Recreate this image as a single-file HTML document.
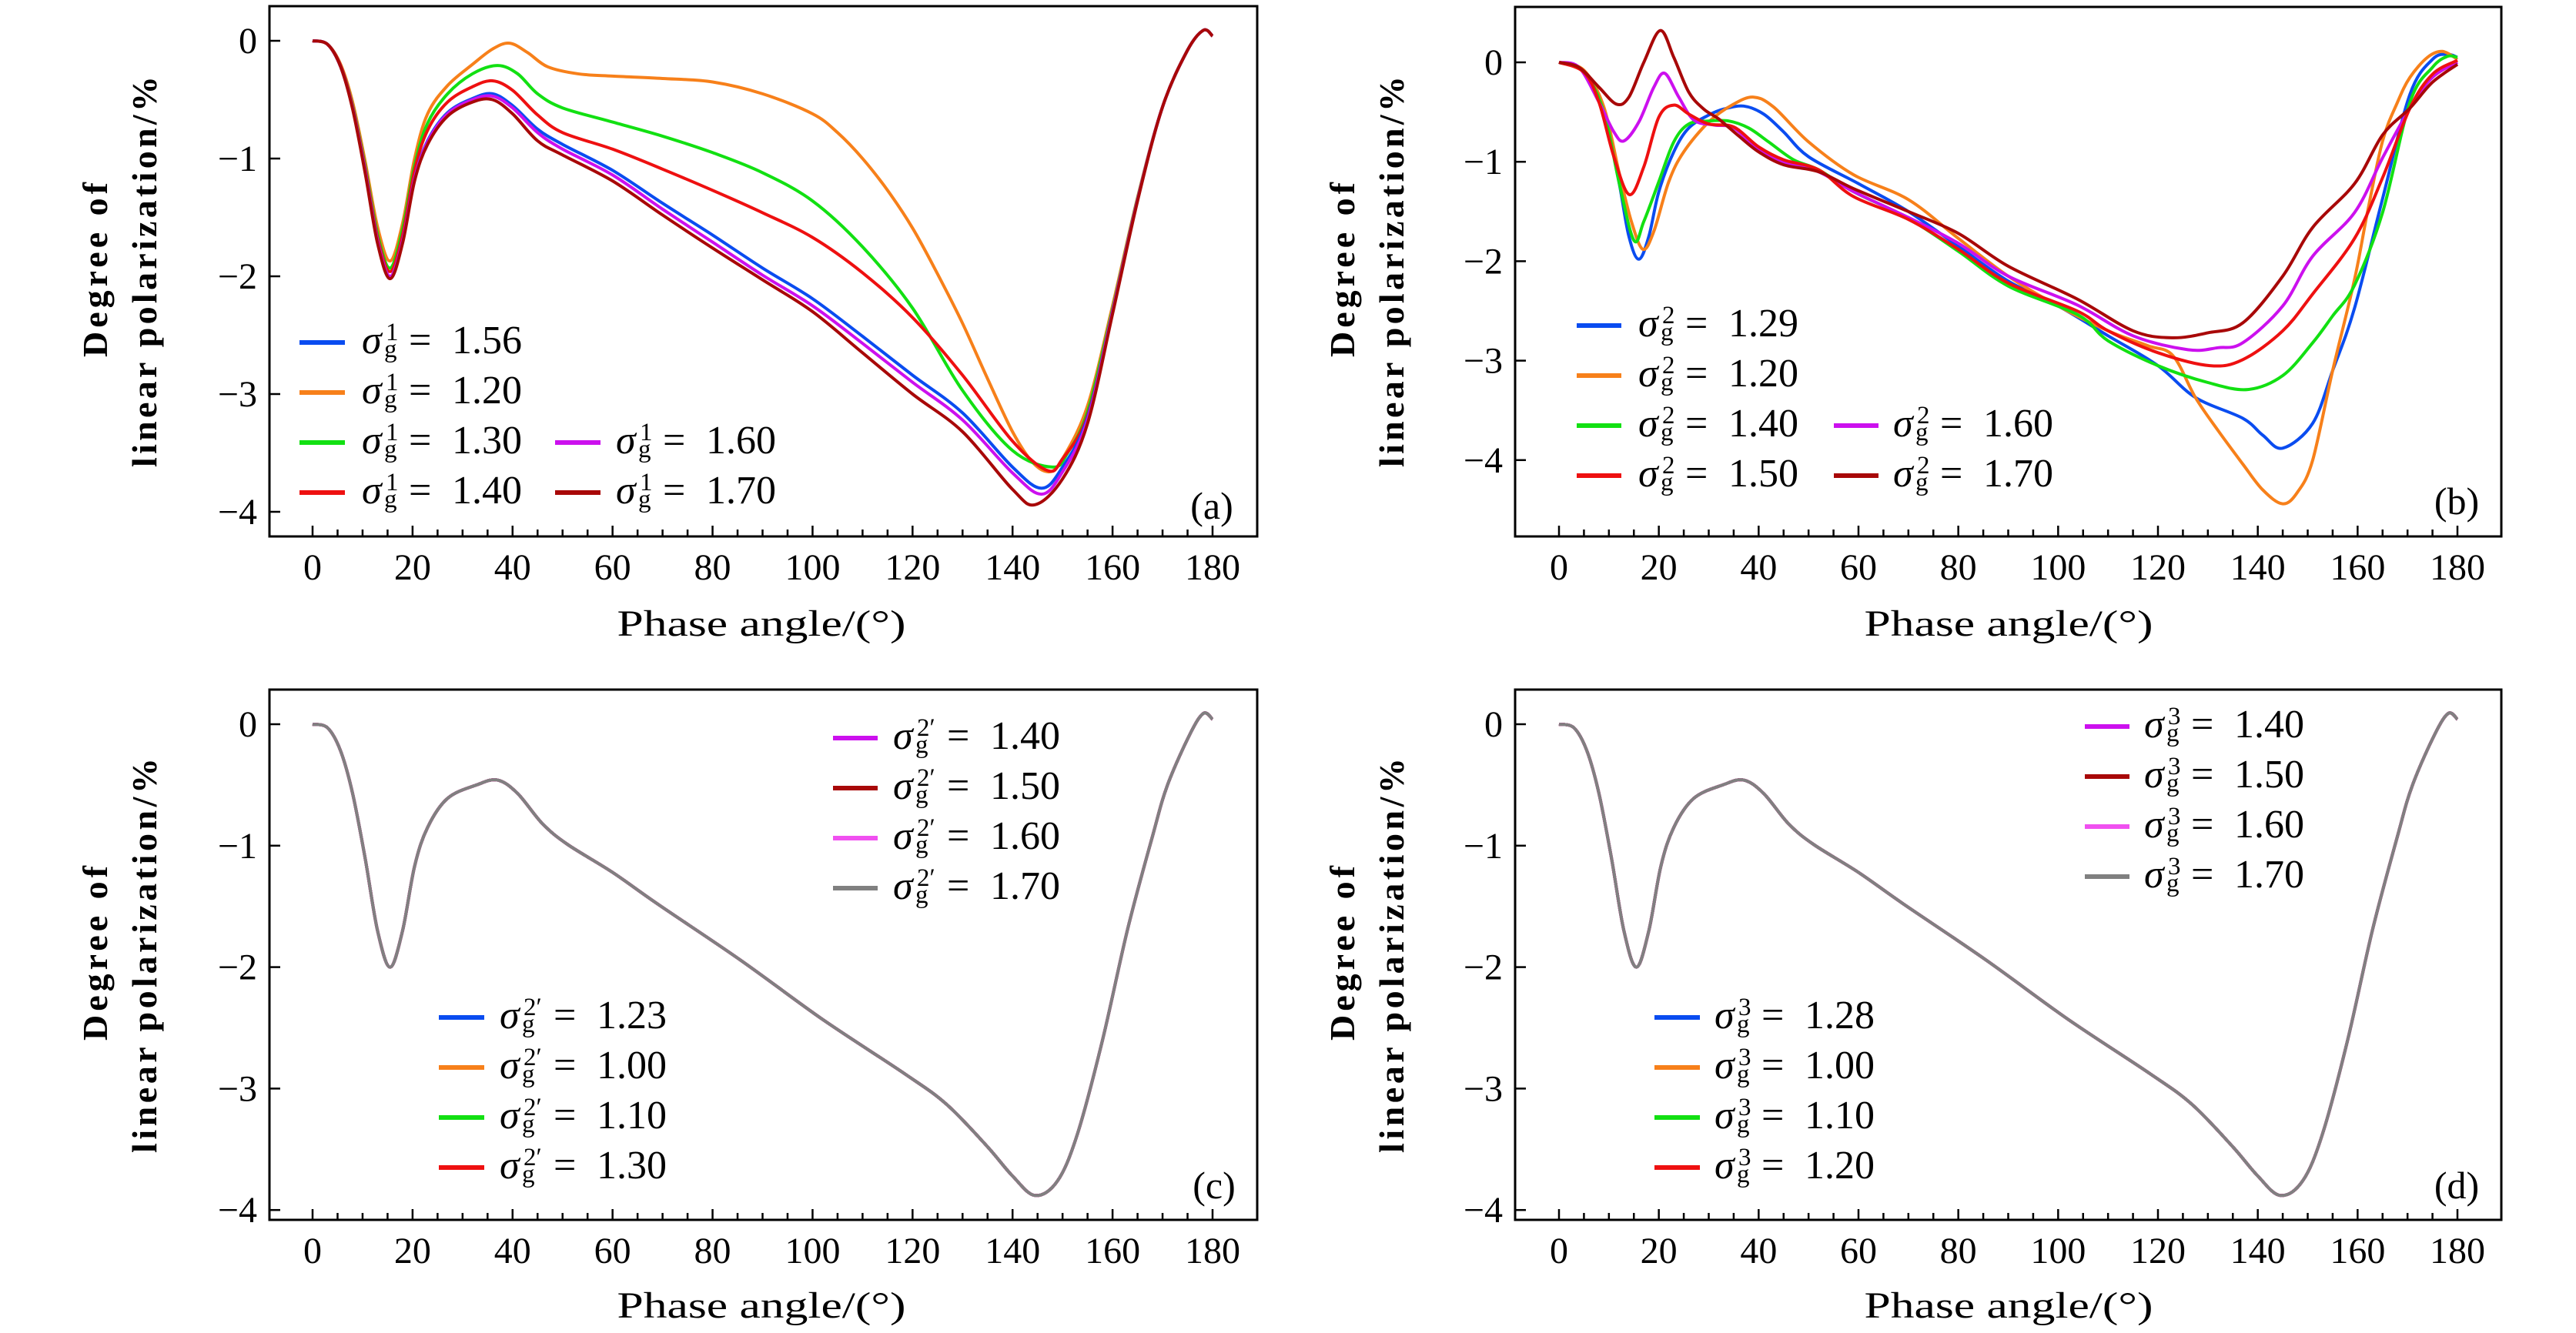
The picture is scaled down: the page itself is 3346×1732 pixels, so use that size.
<!DOCTYPE html>
<html><head><meta charset="utf-8">
<style>
html,body{margin:0;padding:0;background:#fff;}
svg{display:block;}
svg text{font-family:"Liberation Serif","DejaVu Serif",serif;fill:#000;}
</style></head>
<body>
<svg id="fig" width="3346" height="1732" viewBox="0 0 3346 1732" font-family="'Liberation Serif', 'DejaVu Serif', serif" xmlns="http://www.w3.org/2000/svg"></svg>
<script>
// ---------- data ----------
const xTickLabels = [0,20,40,60,80,100,120,140,160,180];
const yTickValues = [0,-1,-2,-3,-4];

// Panel (a)
const aLabels = ["1.56","1.20","1.30","1.40","1.60","1.70"];
const a156 = [[0,0],[3,-0.03],[5.6,-0.22],[8,-0.57],[10.5,-1.1],[13,-1.7],[15.5,-2.0],[18,-1.7],[20.4,-1.17],[23,-0.85],[27,-0.61],[32,-0.49],[36,-0.45],[40,-0.55],[45,-0.75],[50,-0.88],[60,-1.1],[70,-1.38],[80,-1.65],[90,-1.93],[100,-2.19],[110,-2.51],[120,-2.84],[130,-3.16],[140,-3.62],[145.8,-3.8],[150,-3.62],[155,-3.2],[160,-2.3],[165,-1.35],[170,-0.56],[175,-0.08],[178.2,0.09],[180,0.04]];
const a120 = [[0,0],[3,-0.03],[5.6,-0.2],[8,-0.52],[10.5,-1.02],[13,-1.58],[15.5,-1.87],[18,-1.55],[20.4,-1.0],[23,-0.62],[27,-0.38],[32,-0.2],[36,-0.07],[39.4,-0.02],[43,-0.1],[47,-0.22],[53,-0.28],[60,-0.3],[70,-0.32],[80,-0.35],[90,-0.45],[100,-0.62],[105,-0.78],[110,-1.0],[115,-1.27],[120,-1.59],[125,-1.98],[130,-2.4],[135,-2.87],[140,-3.32],[144,-3.58],[147.4,-3.66],[150,-3.55],[155,-3.1],[160,-2.25],[165,-1.33],[170,-0.56],[175,-0.08],[178.2,0.09],[180,0.04]];
const a130 = [[0,0],[3,-0.03],[5.6,-0.21],[8,-0.55],[10.5,-1.06],[13,-1.64],[15.5,-1.93],[18,-1.6],[20.4,-1.06],[23,-0.7],[27,-0.45],[32,-0.28],[37,-0.21],[41,-0.28],[45,-0.45],[50,-0.57],[60,-0.69],[70,-0.81],[80,-0.95],[90,-1.12],[100,-1.36],[110,-1.75],[120,-2.27],[130,-2.97],[140,-3.48],[148,-3.62],[151,-3.5],[155,-3.15],[160,-2.28],[165,-1.34],[170,-0.56],[175,-0.08],[178.2,0.09],[180,0.04]];
const a140 = [[0,0],[3,-0.03],[5.6,-0.21],[8,-0.56],[10.5,-1.08],[13,-1.67],[15.5,-1.96],[18,-1.65],[20.4,-1.1],[23,-0.76],[27,-0.52],[32,-0.39],[36,-0.34],[40,-0.42],[45,-0.63],[50,-0.78],[60,-0.92],[70,-1.09],[80,-1.27],[90,-1.46],[100,-1.67],[110,-1.97],[120,-2.35],[130,-2.84],[140,-3.4],[147,-3.65],[150,-3.55],[155,-3.18],[160,-2.3],[165,-1.35],[170,-0.56],[175,-0.08],[178.2,0.09],[180,0.04]];
const a160 = [[0,0],[3,-0.03],[5.6,-0.22],[8,-0.57],[10.5,-1.1],[13,-1.7],[15.5,-2.0],[18,-1.7],[20.4,-1.17],[23,-0.86],[27,-0.62],[32,-0.5],[36,-0.47],[40,-0.57],[45,-0.78],[50,-0.92],[60,-1.14],[70,-1.43],[80,-1.71],[90,-1.99],[100,-2.25],[110,-2.57],[120,-2.9],[130,-3.22],[140,-3.67],[145.8,-3.85],[150,-3.66],[155,-3.22],[160,-2.3],[165,-1.35],[170,-0.56],[175,-0.08],[178.2,0.09],[180,0.04]];
const a170 = [[0,0],[3,-0.03],[5.6,-0.22],[8,-0.58],[10.5,-1.12],[13,-1.72],[15.5,-2.02],[18,-1.72],[20.4,-1.19],[23,-0.88],[27,-0.64],[32,-0.52],[36,-0.5],[40,-0.62],[45,-0.85],[50,-0.97],[60,-1.19],[70,-1.48],[80,-1.76],[90,-2.03],[100,-2.3],[110,-2.65],[120,-3.0],[130,-3.32],[140,-3.81],[144.5,-3.94],[150,-3.72],[155,-3.25],[160,-2.32],[165,-1.36],[170,-0.56],[175,-0.08],[178.2,0.09],[180,0.04]];

// Panel (b)
const bLabels = ["1.29","1.20","1.40","1.60","1.50","1.70"];
const b129 = [[0,0],[5,-0.1],[9,-0.5],[12,-1.2],[14,-1.75],[16,-1.98],[18,-1.75],[20,-1.3],[23,-0.9],[26,-0.66],[30,-0.53],[33,-0.47],[37,-0.44],[41,-0.52],[45,-0.7],[50,-0.95],[60,-1.22],[70,-1.5],[80,-1.85],[90,-2.2],[100,-2.45],[110,-2.75],[120,-3.05],[127.5,-3.37],[137,-3.58],[141,-3.75],[145,-3.88],[151,-3.63],[155,-3.1],[159.4,-2.47],[165,-1.37],[170.5,-0.32],[175,0.03],[178,0.08],[180,0.05]];
const b120 = [[0,0],[5,-0.08],[9,-0.45],[12,-1.1],[14.5,-1.6],[16.8,-1.88],[19,-1.7],[22,-1.2],[25,-0.9],[30,-0.6],[35,-0.42],[39,-0.35],[43,-0.45],[50,-0.8],[59,-1.13],[70,-1.38],[80,-1.77],[90,-2.15],[100,-2.45],[110,-2.7],[118,-2.85],[123,-2.95],[127.5,-3.37],[132,-3.7],[137,-4.04],[141,-4.3],[145,-4.44],[148,-4.32],[151,-4.0],[155,-3.1],[159.4,-2.18],[162,-1.5],[165,-0.79],[168,-0.4],[170.5,-0.15],[174,0.05],[177,0.11],[180,0.03]];
const b140 = [[0,0],[5,-0.1],[9,-0.5],[12,-1.2],[15,-1.79],[17,-1.6],[20,-1.2],[23,-0.8],[26,-0.62],[30,-0.59],[34,-0.59],[38,-0.66],[42,-0.8],[47,-0.98],[52,-1.08],[59,-1.3],[70,-1.57],[80,-1.9],[90,-2.25],[104,-2.54],[110,-2.8],[120,-3.05],[130,-3.22],[138,-3.29],[145,-3.15],[151,-2.82],[155,-2.55],[159.4,-2.24],[165,-1.51],[170.5,-0.4],[175,-0.05],[178,0.06],[180,0.05]];
const b160 = [[0,0],[4,-0.05],[8,-0.4],[11,-0.7],[13,-0.79],[16,-0.6],[19,-0.25],[21.2,-0.11],[24,-0.35],[27,-0.58],[31,-0.63],[35,-0.66],[40,-0.88],[45,-1.0],[52,-1.1],[59,-1.3],[70,-1.56],[80,-1.82],[90,-2.15],[103.8,-2.44],[115,-2.75],[126,-2.89],[132,-2.87],[137,-2.82],[145,-2.45],[151,-1.95],[159.4,-1.51],[165,-0.96],[170.5,-0.46],[175,-0.15],[180,0]];
const b150 = [[0,0],[5,-0.1],[8,-0.4],[11,-0.95],[14.1,-1.33],[17,-1.05],[20,-0.55],[23,-0.43],[26,-0.52],[30,-0.62],[35,-0.65],[40,-0.85],[45,-0.98],[52,-1.08],[59,-1.35],[70,-1.58],[80,-1.88],[90,-2.22],[103.8,-2.5],[110,-2.7],[120,-2.92],[130.4,-3.05],[137,-2.99],[145,-2.7],[151,-2.33],[159.4,-1.77],[165,-1.16],[170.5,-0.46],[175,-0.12],[180,0.02]];
const b170 = [[0,0],[4,-0.05],[8,-0.25],[11.5,-0.42],[14,-0.35],[17,0.0],[20.3,0.32],[23,0.05],[26,-0.3],[29,-0.47],[32,-0.57],[36,-0.74],[40,-0.9],[45,-1.03],[52,-1.1],[59,-1.27],[70,-1.5],[80,-1.72],[90,-2.05],[103.8,-2.38],[115,-2.7],[122.8,-2.77],[130,-2.72],[137,-2.62],[145,-2.15],[151,-1.66],[159.4,-1.22],[165,-0.73],[170.5,-0.46],[175,-0.2],[180,-0.02]];

// Panels (c) and (d): all series coincide
const cLabelsLow = ["1.23","1.00","1.10","1.30"];
const cLabelsHigh = ["1.40","1.50","1.60","1.70"];
const dLabelsLow = ["1.28","1.00","1.10","1.20"];
const dLabelsHigh = ["1.40","1.50","1.60","1.70"];
const cCurve = [[0,0],[3,-0.03],[5.6,-0.22],[8,-0.57],[10.5,-1.1],[13,-1.7],[15.5,-2.0],[18,-1.7],[20.4,-1.17],[23,-0.85],[27,-0.61],[32.8,-0.5],[37,-0.46],[41,-0.57],[46,-0.82],[51,-0.99],[60,-1.22],[69,-1.48],[85.5,-1.94],[102,-2.43],[118.5,-2.88],[126.8,-3.13],[135,-3.48],[140,-3.72],[144.5,-3.88],[149,-3.76],[153,-3.37],[158,-2.6],[163,-1.69],[168,-0.92],[171,-0.5],[175.5,-0.08],[178.2,0.09],[180,0.04]];
const dCurve = [[0,0],[3,-0.03],[5.6,-0.22],[8,-0.57],[10.5,-1.1],[13,-1.7],[15.5,-2.0],[18,-1.7],[20.4,-1.17],[23,-0.85],[27,-0.61],[32.8,-0.5],[37,-0.46],[41,-0.57],[46,-0.82],[51,-0.99],[60,-1.22],[69,-1.48],[85.5,-1.94],[102,-2.43],[118.5,-2.88],[126.8,-3.13],[135,-3.48],[140,-3.72],[144.5,-3.88],[149,-3.76],[153,-3.37],[158,-2.6],[163,-1.69],[168,-0.92],[171,-0.5],[175.5,-0.08],[178.2,0.09],[180,0.04]];

// ---------- drawing ----------
const NS = "http://www.w3.org/2000/svg";
const svg = document.getElementById("fig");
const FONT = "'Liberation Serif', 'DejaVu Serif', serif";
const COL = {blue:"#0a4cf0",orange:"#f7801a",green:"#12e012",red:"#ee1010",magenta:"#cc10ee",darkred:"#a80808",pink:"#f050f0",gray:"#808080"};

function mk(tag, attrs, parent){
  const e = document.createElementNS(NS, tag);
  for (const k in attrs) e.setAttribute(k, attrs[k]);
  if (tag === "text") e.setAttribute("font-family", FONT);
  (parent||svg).appendChild(e);
  return e;
}

function makePanel(g){
  const xs = v => g.x0 + v*(g.x180-g.x0)/180;
  const ys = v => g.y0 - v*g.unit;
  return {g, xs, ys};
}

function pathFrom(pts, xs, ys){
  const P = pts.map(p => [xs(p[0]), ys(p[1])]);
  let d = "M"+P[0][0].toFixed(1)+","+P[0][1].toFixed(1);
  for (let i=0;i<P.length-1;i++){
    const p0 = P[i-1]||P[i], p1=P[i], p2=P[i+1], p3=P[i+2]||P[i+1];
    const c1=[p1[0]+(p2[0]-p0[0])/6, p1[1]+(p2[1]-p0[1])/6];
    const c2=[p2[0]-(p3[0]-p1[0])/6, p2[1]-(p3[1]-p1[1])/6];
    d += "C"+c1[0].toFixed(1)+","+c1[1].toFixed(1)+" "+c2[0].toFixed(1)+","+c2[1].toFixed(1)+" "+p2[0].toFixed(1)+","+p2[1].toFixed(1);
  }
  return d;
}

function drawAxes(P, name, letter){
  const g = P.g;
  const grp = mk("g", {});
  
  
  const fr = mk("rect", {x:g.left, y:g.top, width:g.right-g.left, height:g.bottom-g.top, fill:"none", stroke:"#000", "stroke-width":3}, grp);
  
  
  for (let v=0; v<=180; v+=5){
    const x = P.xs(v); const major = v%20===0;
    const t = mk("line", {x1:x, x2:x, y1:g.bottom, y2:g.bottom-(major?14:9), stroke:"#000", "stroke-width":2.5}, grp);
    
    
  }
  xTickLabels.forEach(v=>{
    const t = mk("text", {x:P.xs(v), y:g.tickLabelY, "text-anchor":"middle", "font-size":48}, grp);
    t.textContent = String(v);
    
    
  });
  yTickValues.forEach(v=>{
    const y = P.ys(v);
    const t = mk("line", {x1:g.left, x2:g.left+14, y1:y, y2:y, stroke:"#000", "stroke-width":2.5}, grp);
    
    
    const l = mk("text", {x:g.left-16, y:y+16, "text-anchor":"end", "font-size":48}, grp);
    l.textContent = v<0 ? "\u2212"+Math.abs(v) : String(v);
    
    
  });
  const xt = mk("text", {x:g.titleX, y:g.titleY, "text-anchor":"middle", "font-size":48, textLength:375, lengthAdjust:"spacingAndGlyphs"}, grp);
  xt.textContent = "Phase angle/(\u00B0)";
  
  
  const cy1 = (g.l1a+g.l1b)/2, cy2=(g.l2a+g.l2b)/2;
  const y1 = mk("text", {x:0, y:0, "text-anchor":"middle", "font-size":46, "font-weight":"bold", textLength:g.l1b-g.l1a, lengthAdjust:"spacing", transform:`translate(${g.yt1+16},${cy1}) rotate(-90)`}, grp);
  y1.textContent = "Degree of";
  
  
  const y2 = mk("text", {x:0, y:0, "text-anchor":"middle", "font-size":46, "font-weight":"bold", textLength:g.l2b-g.l2a, lengthAdjust:"spacing", transform:`translate(${g.yt2+16},${cy2}) rotate(-90)`}, grp);
  y2.textContent = "linear polarization/%";
  
  
  const pl = mk("text", {x:g.plX, y:g.plY, "text-anchor":"middle", "font-size":50}, grp);
  pl.textContent = "("+letter+")";
  
  
}

function drawSeries(P, pts, color, name){
  const p = mk("path", {d:pathFrom(pts,P.xs,P.ys), fill:"none", stroke:color, "stroke-width":4, "stroke-linejoin":"round"});
  
  
}

function legendEntry(lx0, lx1, tx, y, color, sup, val, name){
  const grp = mk("g", {});
  
  
  mk("line", {x1:lx0, x2:lx1, y1:y, y2:y, stroke:color, "stroke-width":6}, grp);
  const s = mk("text", {x:tx, y:y+14, "font-size":52, "font-style":"italic"}, grp); s.textContent="\u03C3";
  const su = mk("text", {x:tx+31, y:y-3, "font-size":33}, grp); su.textContent=sup;
  const sb = mk("text", {x:tx+29, y:y+19, "font-size":33}, grp); sb.textContent="g";
  const extra = sup.length>1 ? 9 : 0;
  const eq = mk("text", {x:tx+61+extra, y:y+14, "font-size":52}, grp); eq.textContent="=";
  const v = mk("text", {x:tx+117+extra, y:y+14, "font-size":52}, grp); v.textContent=val;
}

const GA = {left:350,right:1633,top:8,bottom:697,x0:406,x180:1575,y0:53,unit:153,tickLabelY:753,titleX:989,titleY:826,yt1:123,yt2:187,l1a:237,l1b:464,l2a:99,l2b:607,plX:1574,plY:674};
const GB = {left:1968,right:3249,top:9,bottom:697,x0:2025,x180:3192,y0:81,unit:129.2,tickLabelY:753,titleX:2609,titleY:826,yt1:1743,yt2:1807,l1a:237,l1b:464,l2a:99,l2b:607,plX:3191,plY:668};
const GC = {left:350,right:1633,top:896,bottom:1585,x0:406,x180:1575,y0:941,unit:157.8,tickLabelY:1641,titleX:989,titleY:1712,yt1:123,yt2:187,l1a:1125,l1b:1352,l2a:985,l2b:1498,plX:1577,plY:1557};
const GD = {left:1968,right:3249,top:896,bottom:1585,x0:2025,x180:3192,y0:941,unit:157.8,tickLabelY:1641,titleX:2609,titleY:1712,yt1:1743,yt2:1807,l1a:1125,l1b:1352,l2a:985,l2b:1498,plX:3191,plY:1557};

const PA = makePanel(GA), PB = makePanel(GB), PC = makePanel(GC), PD = makePanel(GD);
drawAxes(PA,"a","a"); drawAxes(PB,"b","b"); drawAxes(PC,"c","c"); drawAxes(PD,"d","d");

// (a)
drawSeries(PA,a120,COL.orange,"series-a-1.20");
drawSeries(PA,a130,COL.green,"series-a-1.30");
drawSeries(PA,a140,COL.red,"series-a-1.40");
drawSeries(PA,a156,COL.blue,"series-a-1.56");
drawSeries(PA,a160,COL.magenta,"series-a-1.60");
drawSeries(PA,a170,COL.darkred,"series-a-1.70");
legendEntry(389,448,470,445,COL.blue,"1",aLabels[0],"legend-a-1.56");
legendEntry(389,448,470,510,COL.orange,"1",aLabels[1],"legend-a-1.20");
legendEntry(389,448,470,575,COL.green,"1",aLabels[2],"legend-a-1.30");
legendEntry(389,448,470,640,COL.red,"1",aLabels[3],"legend-a-1.40");
legendEntry(721,780,800,575,COL.magenta,"1",aLabels[4],"legend-a-1.60");
legendEntry(721,780,800,640,COL.darkred,"1",aLabels[5],"legend-a-1.70");

// (b)
drawSeries(PB,b129,COL.blue,"series-b-1.29");
drawSeries(PB,b120,COL.orange,"series-b-1.20");
drawSeries(PB,b140,COL.green,"series-b-1.40");
drawSeries(PB,b160,COL.magenta,"series-b-1.60");
drawSeries(PB,b150,COL.red,"series-b-1.50");
drawSeries(PB,b170,COL.darkred,"series-b-1.70");
legendEntry(2048,2106,2128,423,COL.blue,"2",bLabels[0],"legend-b-1.29");
legendEntry(2048,2106,2128,488,COL.orange,"2",bLabels[1],"legend-b-1.20");
legendEntry(2048,2106,2128,553,COL.green,"2",bLabels[2],"legend-b-1.40");
legendEntry(2048,2106,2128,618,COL.red,"2",bLabels[4],"legend-b-1.50");
legendEntry(2382,2440,2459,553,COL.magenta,"2",bLabels[3],"legend-b-1.60");
legendEntry(2382,2440,2459,618,COL.darkred,"2",bLabels[5],"legend-b-1.70");

// (c)
const lowCols = [COL.blue,COL.orange,COL.green,COL.red];
const highCols = [COL.magenta,COL.darkred,COL.pink,COL.gray];
lowCols.forEach((c,i)=>drawSeries(PC,cCurve,c,"series-c-"+cLabelsLow[i]));
highCols.forEach((c,i)=>drawSeries(PC,cCurve,c,"series-c-"+cLabelsHigh[i]));
cLabelsLow.forEach((v,i)=>legendEntry(570,629,649,1322+i*65,lowCols[i],"2\u2032",v,"legend-c-"+v));
cLabelsHigh.forEach((v,i)=>legendEntry(1082,1140,1160,959+i*65,highCols[i],"2\u2032",v,"legend-c-"+v));

// (d)
lowCols.forEach((c,i)=>drawSeries(PD,dCurve,c,"series-d-"+dLabelsLow[i]));
highCols.forEach((c,i)=>drawSeries(PD,dCurve,c,"series-d-"+dLabelsHigh[i]));
dLabelsLow.forEach((v,i)=>legendEntry(2149,2208,2227,1322+i*65,lowCols[i],"3",v,"legend-d-"+v));
dLabelsHigh.forEach((v,i)=>legendEntry(2708,2766,2785,944+i*65,highCols[i],"3",v,"legend-d-"+v));
</script>
</body></html>
